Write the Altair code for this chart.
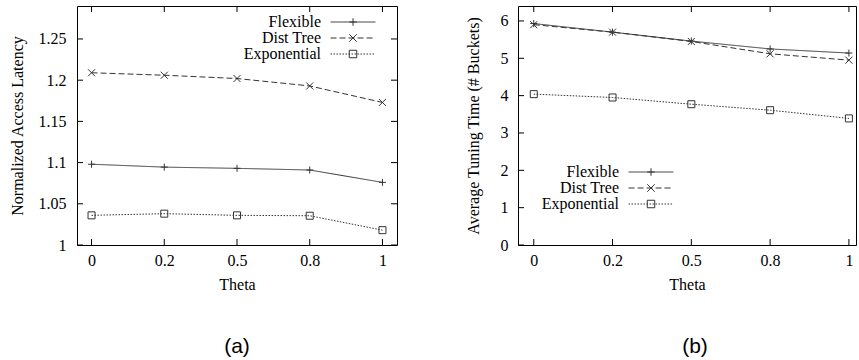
import altair as alt
import pandas as pd

theta_labels = ["0", "0.2", "0.5", "0.8", "1"]
series_names = ["Flexible", "Dist Tree", "Exponential"]

latency_flexible = [1.098, 1.0945, 1.093, 1.091, 1.076]
latency_dist_tree = [1.209, 1.206, 1.202, 1.193, 1.173]
latency_exponential = [1.036, 1.038, 1.036, 1.0355, 1.018]
latency_ticks = [1.0, 1.05, 1.1, 1.15, 1.2, 1.25]

tuning_flexible = [5.93, 5.70, 5.46, 5.25, 5.14]
tuning_dist_tree = [5.90, 5.70, 5.45, 5.12, 4.95]
tuning_exponential = [4.04, 3.95, 3.77, 3.61, 3.39]
tuning_ticks = [0, 1, 2, 3, 4, 5, 6]

SERIF = "Liberation Serif"
LINE_COLOR = "#333333"
dash_range = [[1, 0], [6, 3], [1.5, 1.5]]
shape_range = ["M-1,0H1M0,-1V1", "M-1,-1L1,1M-1,1L1,-1", "square"]
label_expr = "[" + ",".join("'" + t + "'" for t in theta_labels) + "][datum.value]"


def make_panel(series_values, y_domain, y_ticks, y_title, width, height, x_domain,
               legend_x, legend_y, panel_label, label_pad, title_pad, right_ticks, title_dx):
    rows = []
    for name, vals in zip(series_names, series_values):
        for i, v in enumerate(vals):
            rows.append({"idx": i, "theta": theta_labels[i], "series": name, "marker": name, "value": v})
    df = pd.DataFrame(rows)

    x_axis = alt.Axis(values=list(range(len(theta_labels))), labelExpr=label_expr,
                      title="Theta", labelPadding=7, titlePadding=8, labelOverlap=False)
    y_axis = alt.Axis(values=y_ticks, format="~g", title=y_title, labelOverlap=False,
                      labelPadding=label_pad, titlePadding=title_pad)
    x_scale = alt.Scale(domain=x_domain, nice=False, zero=False)
    y_scale = alt.Scale(domain=y_domain, nice=False, zero=False)

    common_legend = dict(orient="none", legendX=legend_x, legendY=legend_y, title=None,
                         labelFont=SERIF, labelFontSize=16, labelColor="black",
                         labelAlign="right", labelOffset={"expr": "-40"}, symbolOffset=0,
                         symbolSize=56, symbolStrokeWidth=1, symbolStrokeColor=LINE_COLOR,
                         rowPadding=0, padding=0)

    lines = alt.Chart(df).mark_line(color=LINE_COLOR, strokeWidth=1).encode(
        x=alt.X("idx:Q", scale=x_scale, axis=x_axis),
        y=alt.Y("value:Q", scale=y_scale, axis=y_axis),
        strokeDash=alt.StrokeDash("series:N",
                                  scale=alt.Scale(domain=series_names, range=dash_range),
                                  legend=alt.Legend(symbolType="M-6,0H6", **common_legend)),
    )
    points = alt.Chart(df).mark_point(filled=False, color=LINE_COLOR, strokeWidth=1,
                                      size=49, opacity=1).encode(
        x=alt.X("idx:Q", scale=x_scale, axis=x_axis),
        y=alt.Y("value:Q", scale=y_scale, axis=y_axis),
        shape=alt.Shape("marker:N", sort=series_names,
                        scale=alt.Scale(range=shape_range),
                        legend=alt.Legend(labelOpacity=0, **common_legend)),
    )

    ytick_df = pd.DataFrame({"value": y_ticks})
    xtick_df = pd.DataFrame({"idx": list(range(len(theta_labels)))})
    tick = 6
    y_t = alt.Y("value:Q", scale=y_scale, axis=y_axis)
    x_t = alt.X("idx:Q", scale=x_scale, axis=x_axis)
    layers = [lines, points,
              alt.Chart(ytick_df).mark_rule(color="black", strokeWidth=1).encode(
                  y=y_t, x=alt.value(0), x2=alt.value(tick)),
              alt.Chart(xtick_df).mark_rule(color="black", strokeWidth=1).encode(
                  x=x_t, y=alt.value(height - tick), y2=alt.value(height)),
              alt.Chart(xtick_df).mark_rule(color="black", strokeWidth=1).encode(
                  x=x_t, y=alt.value(0), y2=alt.value(tick)),
              ]
    if right_ticks:
        layers.append(alt.Chart(ytick_df).mark_rule(color="black", strokeWidth=1).encode(
            y=y_t, x=alt.value(width - tick), x2=alt.value(width)))

    return alt.layer(*layers).properties(
        width=width, height=height,
        title=alt.TitleParams(text=panel_label, orient="bottom", frame="group", anchor="middle",
                              font="Liberation Sans", fontSize=21, fontWeight="normal",
                              color="black", offset=44, dx=title_dx),
    )


left = make_panel([latency_flexible, latency_dist_tree, latency_exponential],
                  [1.0, 1.29], latency_ticks, "Normalized Access Latency",
                  320, 239, [-0.2, 4.2], 268, 8, "(a)", 11, 13, True, 0)
right = make_panel([tuning_flexible, tuning_dist_tree, tuning_exponential],
                   [0, 6.4], tuning_ticks, "Average Tuning Time (# Buckets)",
                   338, 239, [-0.2, 4.09], 125, 158, "(b)", 10, 19, False, 8)

chart = alt.hconcat(left, right, spacing=66).resolve_scale(
    strokeDash="independent", shape="independent"
).properties(
    padding={"left": 8, "top": 5, "right": 0, "bottom": 0}
).configure_view(
    stroke="black", strokeWidth=1
).configure_axis(
    labelFont=SERIF, labelFontSize=16, labelColor="black",
    titleFont=SERIF, titleFontSize=16, titleFontWeight="normal", titleColor="black",
    grid=False, domain=False, ticks=False, tickSize=0, labelOverlap=False
)

chart.save("out.html", embed_options={"renderer": "svg", "actions": False})
